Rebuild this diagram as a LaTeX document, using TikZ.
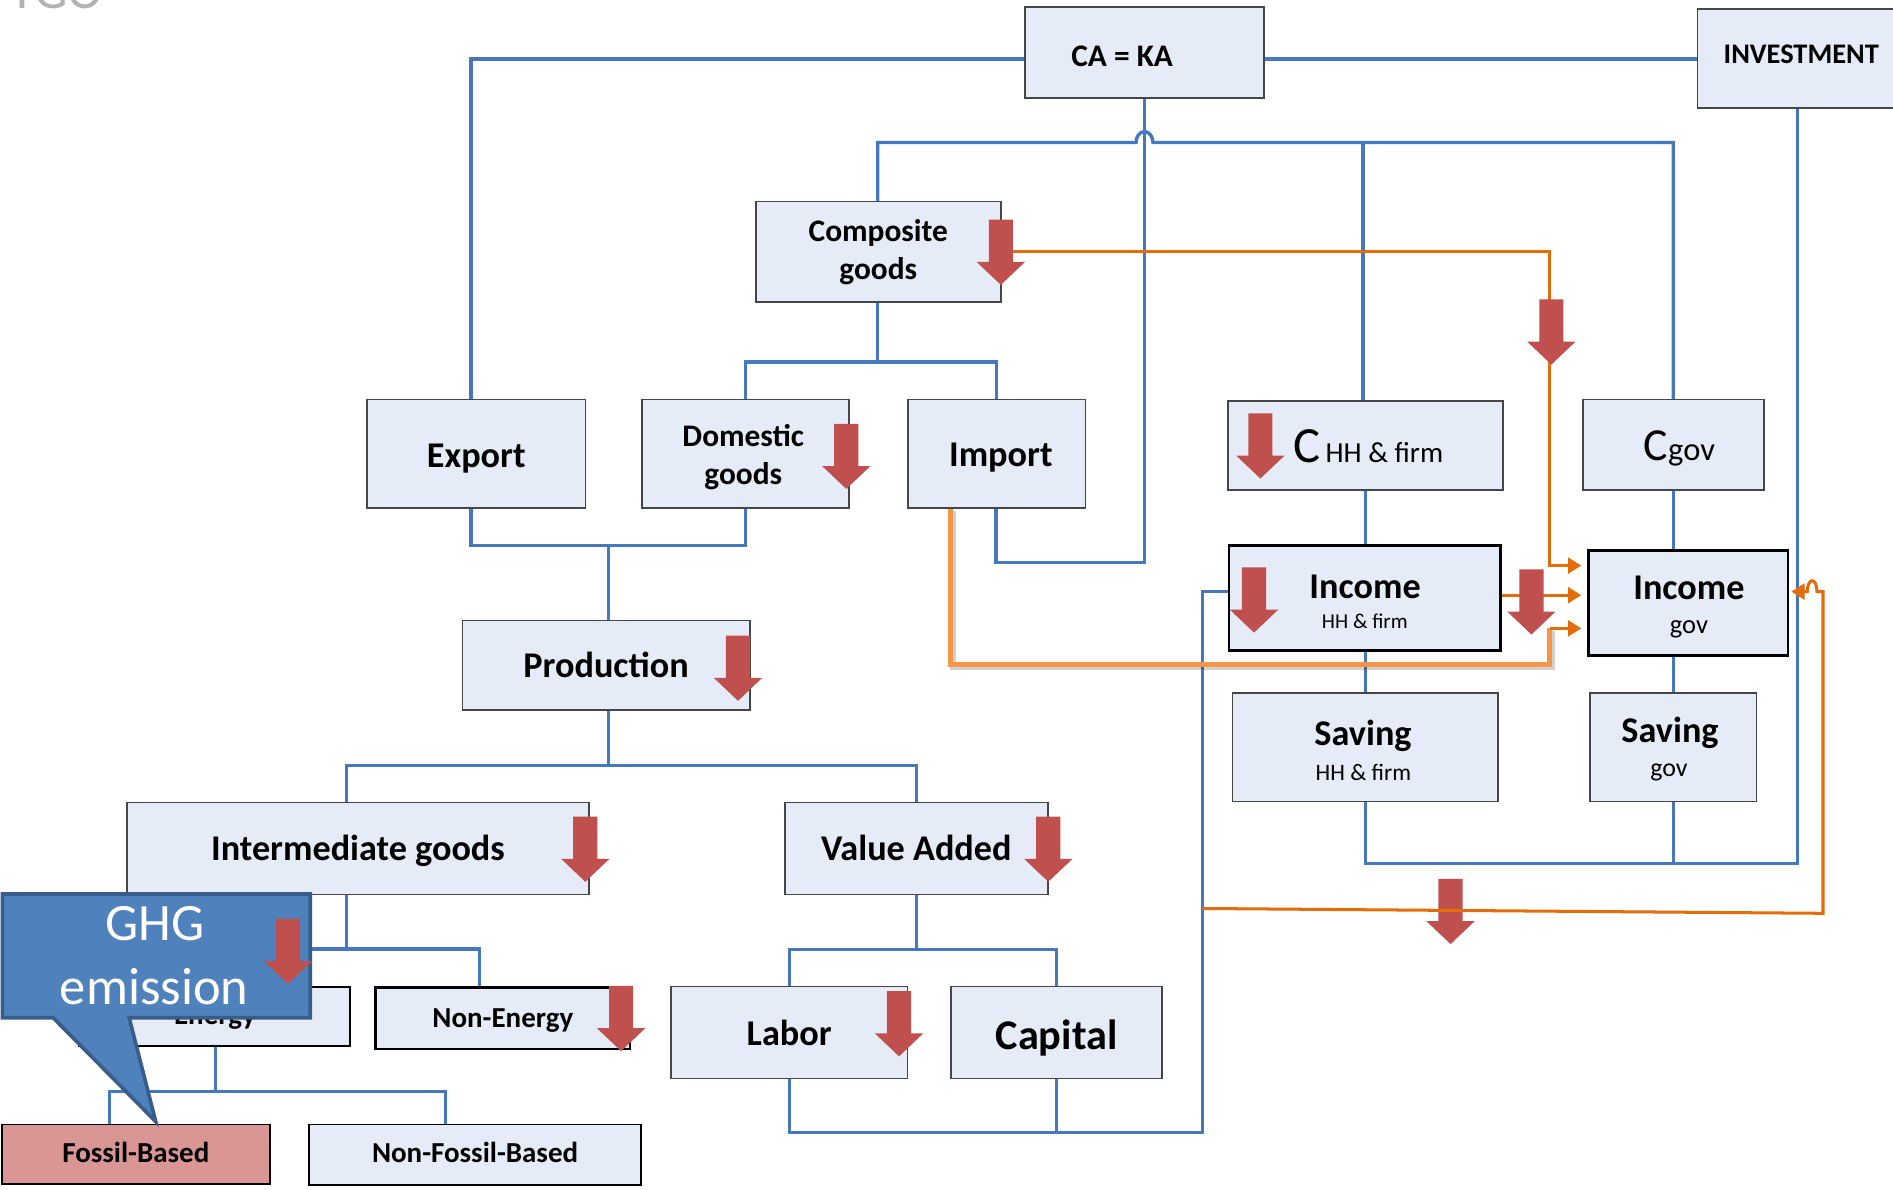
\documentclass[tikz,border=0pt]{standalone}
\usepackage{fontspec}
\setmainfont{Carlito}
\usetikzlibrary{arrows.meta,calc}
\definecolor{boxfill}{RGB}{230,236,247}
\definecolor{boxline}{RGB}{70,70,70}
\definecolor{lblue}{RGB}{70,120,192}
\definecolor{dorange}{RGB}{228,108,10}
\definecolor{lorange}{RGB}{247,150,70}
\definecolor{redfill}{RGB}{192,80,77}
\definecolor{fossilfill}{RGB}{218,150,148}
\definecolor{calloutfill}{RGB}{79,129,189}
\definecolor{calloutline}{RGB}{56,93,138}
\newcommand{\fsz}[1]{\fontsize{#1}{#1}\selectfont}
\newcommand{\mkredarrow}[2]{\fill[redfill] (#1-10,#2) -- (#1+10,#2) -- (#1+10,#2+35) -- (#1+20,#2+35) -- (#1,#2+54) -- (#1-20,#2+35) -- (#1-10,#2+35) -- cycle;}
\tikzset{
  box/.style={draw=boxline, fill=boxfill, line width=1.3pt, inner sep=0pt, text depth=0pt, font=\bfseries\fsz{30}},
  boxk/.style={box, draw=black, line width=2.4pt},
  lbl/.style={anchor=base, inner sep=0pt},
  bl/.style={draw=lblue, line width=2.8pt},
  orl/.style={draw=dorange, line width=2.5pt},
  lorl/.style={draw=lorange, line width=4.5pt},
  ortip/.style={-{Triangle[length=11pt,width=13pt]}},
}
\begin{document}
\begin{tikzpicture}[x=1pt,y=-1pt]
\useasboundingbox (0,0) rectangle (1568,985);

% logo fragment
\begin{scope}
\clip (0,0) rectangle (1568,985);
\node[anchor=base west, inner sep=0pt, text=gray!60, font=\fsz{44}] (logo) at (8,7) {TGO};
\end{scope}

% boxes
\node[box, minimum width=198, minimum height=75, text height=23.4pt, font=\bfseries\fsz{26}] (ca) at (948,43.5) {CA = KA\kern37pt};
\node[box, minimum width=172, minimum height=82, text height=8pt, font=\bfseries\fsz{23.5}] (inv) at (1492,48.5) {INVESTMENT};
\node[box, minimum width=203, minimum height=83] (comp) at (727.5,208.5) {};
\node[box, minimum width=181, minimum height=90, text height=22pt] (exp) at (394.5,376) {Export};
\node[box, minimum width=171, minimum height=90] (dom) at (617.5,376) {};
\node[box, minimum width=147, minimum height=90, text height=21pt] (imp) at (825.5,376) {\hspace{7pt}Import};
\node[box, minimum width=228, minimum height=74, text height=28pt, font=\fsz{24}] (chh) at (1131,369) {\hspace{5pt}{\fsz{42}C}\,HH \& firm};
\node[box, minimum width=150, minimum height=75, text height=26pt, font=\fsz{27}] (cgov) at (1386,368.5) {\hspace{10pt}{\fsz{38}C}gov};
\node[boxk, minimum width=225, minimum height=87] (inchh) at (1130.5,495.5) {};
\node[boxk, minimum width=165, minimum height=87] (incgov) at (1398.5,499.5) {};
\node[box, minimum width=220, minimum height=90] (savhh) at (1131,619) {};
\node[box, minimum width=138, minimum height=90] (savgov) at (1386,619) {};
\node[box, minimum width=238, minimum height=74, text height=20pt] (prod) at (502,551) {Production};
\node[box, minimum width=383, minimum height=76, text height=20.2pt] (inter) at (296.5,702.8) {Intermediate goods};
\node[box, minimum width=218, minimum height=76, text height=20.2pt] (va) at (759,702.8) {Value Added};
\node[box, draw=black, line width=2pt, minimum width=224, minimum height=49, text height=14pt, font=\bfseries\fsz{24}] (energy) at (178,842) {Energy};
\node[box, draw=black, line width=2pt, minimum width=211, minimum height=51, text height=15pt, font=\bfseries\fsz{24}] (nonen) at (416.5,843.5) {Non-Energy};
\node[box, minimum width=196, minimum height=76, text height=21.8pt] (labor) at (653.7,855.2) {Labor};
\node[box, minimum width=175, minimum height=76, text height=27.8pt, font=\bfseries\fsz{35}] (capital) at (875.2,855.2) {Capital};
\node[box, draw=black, fill=fossilfill, minimum width=222, minimum height=49, text height=14pt, font=\bfseries\fsz{24}] (fossil) at (112.5,956) {Fossil-Based};
\node[box, draw=black, minimum width=275, minimum height=50, text height=13pt, font=\bfseries\fsz{24}] (nonfos) at (393.5,956.5) {Non-Fossil-Based};

% two-line labels
\node[lbl, font=\bfseries\fsz{26}] (comp-a) at (727.5,200.2) {Composite};
\node[lbl, font=\bfseries\fsz{26}] (comp-b) at (727.5,231.5) {goods};
\node[lbl, font=\bfseries\fsz{26}] (dom-a) at (615.7,370) {Domestic};
\node[lbl, font=\bfseries\fsz{26}] (dom-b) at (615.7,401.5) {goods};
\node[lbl, font=\bfseries\fsz{30}] (inchh-a) at (1130.7,495.6) {Income};
\node[lbl, font=\fsz{17.5}] (inchh-b) at (1130.5,520.5) {HH \& firm};
\node[lbl, font=\bfseries\fsz{30}] (incgov-a) at (1399,496.2) {Income};
\node[lbl, font=\fsz{22}] (incgov-b) at (1399,524.6) {gov};
\node[lbl, font=\bfseries\fsz{30}] (savhh-a) at (1129,617.1) {Saving};
\node[lbl, font=\fsz{19.5}] (savhh-b) at (1129.3,646.6) {HH \& firm};
\node[lbl, font=\bfseries\fsz{30}] (savgov-a) at (1383.3,615) {Saving};
\node[lbl, font=\fsz{21.5}] (savgov-b) at (1382.4,643.3) {gov};

% blue connectors
\coordinate (j1) at (390,49);
\draw[bl] (ca.west |- j1) -- (j1) -- (exp.north -| j1);
\draw[bl] (ca.east |- j1) -- (inv.west |- j1);
\coordinate (j2) at (948,466);
\coordinate (j3) at (825,466);
\draw[bl] (ca.south -| j2) -- (j2) -- (j3) -- (imp.south -| j3);
\coordinate (h0) at (727,118);
\coordinate (h1) at (1129,118);
\coordinate (h2) at (1386,118);
\draw[bl] (comp.north -| h0) -- (h0) -- (941,118) arc[start angle=180, end angle=360, x radius=7, y radius=9] -- (h2) -- (cgov.north -| h2);
\draw[bl] (h1) -- (chh.north -| h1);
\coordinate (j4) at (727,300);
\draw[bl] (comp.south -| j4) -- (j4);
\draw[bl] (dom.north) |- (j4) -| (imp.north);
\coordinate (j5) at (504,452);
\draw[bl] (exp.south -| j1) |- (j5) -| (dom.south);
\draw[bl] (j5) -- (prod.north -| j5);
\coordinate (j6) at (504,634);
\coordinate (j6l) at (287,634);
\draw[bl] (prod.south -| j6) -- (j6);
\draw[bl] (inter.north -| j6l) |- (j6) -| (va.north);
\coordinate (j7) at (287,786);
\coordinate (j7r) at (397,786);
\draw[bl] (inter.south -| j7) -- (j7);
\draw[bl] (energy.north) |- (j7) -- (j7r) -- (nonen.north -| j7r);
\coordinate (j8) at (178.5,904);
\coordinate (j8l) at (90.5,904);
\coordinate (j8r) at (369,904);
\draw[bl] (energy.south -| j8) -- (j8);
\draw[bl] (fossil.north -| j8l) -- (j8l) -- (j8r) -- (nonfos.north -| j8r);
\coordinate (j9) at (759,786.5);
\draw[bl] (va.south) -- (j9);
\draw[bl] (labor.north) |- (j9) -| (capital.north);
\coordinate (j10) at (996,938);
\draw[bl] (labor.south) |- (j10) |- ([yshift=5.5pt]inchh.west);
\draw[bl] (capital.south) -- (capital.south |- j10);
\draw[bl] (chh.south) -- (chh.south |- inchh.north);
\draw[bl] (inchh.south -| savhh.north) -- (savhh.north);
\draw[bl] (cgov.south) -- (cgov.south |- incgov.north);
\draw[bl] (incgov.south -| savgov.north) -- (savgov.north);
\coordinate (j11) at (1489,715);
\draw[bl] (savhh.south) |- (j11) -- (inv.south -| j11);
\draw[bl] (savgov.south) -- (savgov.south |- j11);

% orange connectors
\coordinate (o1) at (1283.5,208.5);
\coordinate (o2) at (1283.5,468.5);
\draw[orl, ortip, shorten >=5pt] (comp.east) -- (o1) -- (o2) -- (incgov.west |- o2);
\draw[orl, ortip, shorten >=5pt] ([yshift=2.5pt]inchh.east) -- ([yshift=2.5pt]inchh.east -| incgov.west);
\coordinate (o3) at (787.5,550.5);
\coordinate (o4) at (1283.5,550.5);
\coordinate (o5) at (1283.5,520.5);
\draw[line width=4.5pt, black, opacity=0.18] (789.5,423) -- (789.5,552.5) -- (1285.5,552.5) -- (1285.5,522.5);
\draw[lorl] (imp.south -| o3) -- (o3) -- (o4) -- (o5);
\draw[orl, ortip, shorten >=5pt] (o5) -- (incgov.west |- o5);

% red arrows
\mkredarrow{829}{182}
\mkredarrow{701}{351}
\mkredarrow{1044}{342.4}
\mkredarrow{1038.7}{470}
\mkredarrow{1268.5}{471.6}
\mkredarrow{1285}{248}
\mkredarrow{611.3}{526.5}
\mkredarrow{484.8}{676.4}
\mkredarrow{868.3}{676.4}
\mkredarrow{514.5}{816.7}
\mkredarrow{744.7}{821}
\mkredarrow{1201.5}{728}

% bottom orange feedback
\coordinate (o6) at (996,752.5);
\coordinate (o7) at (1510,756.5);
\coordinate (o8) at (1510,490);
\draw[orl, ortip, shorten >=1.5pt] (o6) -- (o7) -- (o8) -- (1505,490) arc[start angle=0, end angle=-180, x radius=4, y radius=9] -- ([yshift=9.5pt]incgov.east);

% callout
\draw[fill=calloutfill, draw=calloutline, line width=3pt, line join=miter] (2,740.5) -- (257,740.5) -- (257,843) -- (107,843) -- (129,929) -- (44,843) -- (2,843) -- cycle;
\node[lbl, text=white, font=\fsz{43.5}] (ghg) at (128.5,779.2) {GHG};
\node[lbl, text=white, font=\fsz{43.5}] (emis) at (127.7,832.4) {emission};
\mkredarrow{238.6}{761}
\end{tikzpicture}
\end{document}
